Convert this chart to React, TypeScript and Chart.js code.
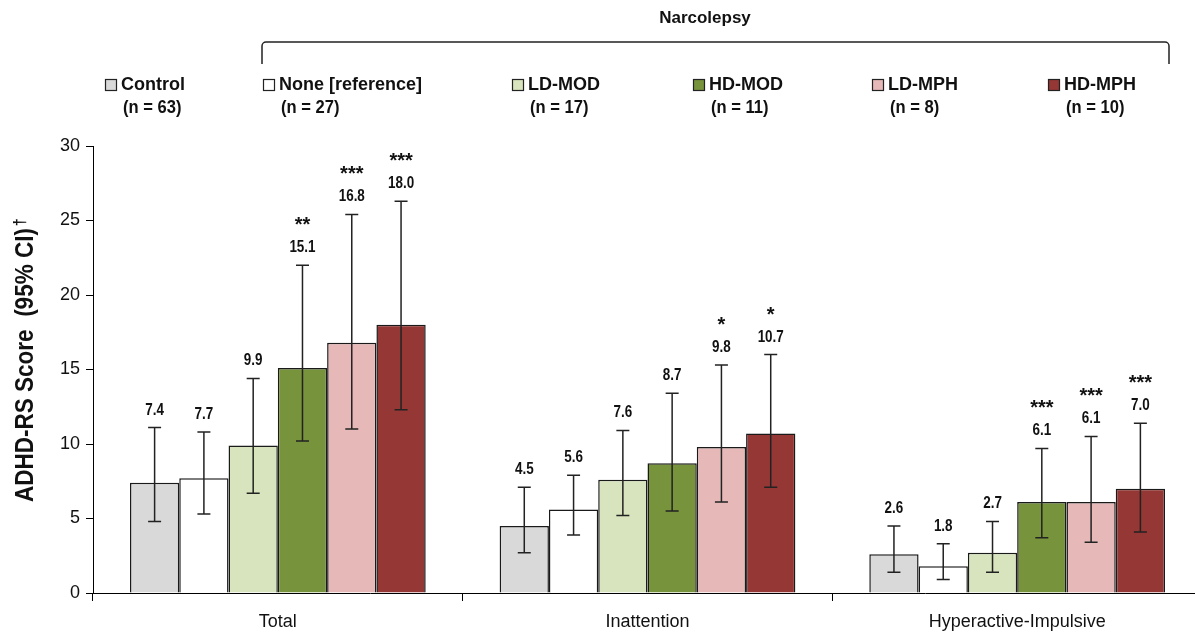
import React, { useEffect, useRef } from "react";
import { Chart, registerables } from "chart.js";

Chart.register(...registerables);

// ---------- data ----------
const categories = ["Total", "Inattention", "Hyperactive-Impulsive"];
const groupNames = ["Control", "None [reference]", "LD-MOD", "HD-MOD", "LD-MPH", "HD-MPH"];
const groupCounts = ["(n = 63)", "(n = 27)", "(n = 17)", "(n = 11)", "(n = 8)", "(n = 10)"];

const controlMean = [7.4, 4.5, 2.6];
const noneMean = [7.7, 5.6, 1.8];
const ldModMean = [9.9, 7.6, 2.7];
const hdModMean = [15.1, 8.7, 6.1];
const ldMphMean = [16.8, 9.8, 6.1];
const hdMphMean = [18.0, 10.7, 7.0];

const controlLow = [4.8, 2.7, 1.4];
const noneLow = [5.3, 3.9, 0.9];
const ldModLow = [6.7, 5.2, 1.4];
const hdModLow = [10.2, 5.5, 3.7];
const ldMphLow = [11.0, 6.1, 3.4];
const hdMphLow = [12.3, 7.1, 4.1];

const controlHigh = [11.1, 7.1, 4.5];
const noneHigh = [10.8, 7.9, 3.3];
const ldModHigh = [14.4, 10.9, 4.8];
const hdModHigh = [22.0, 13.4, 9.7];
const ldMphHigh = [25.4, 15.3, 10.5];
const hdMphHigh = [26.3, 16.0, 11.4];

const controlSig = ["", "", ""];
const noneSig = ["", "", ""];
const ldModSig = ["", "", ""];
const hdModSig = ["**", "", "***"];
const ldMphSig = ["***", "*", "***"];
const hdMphSig = ["***", "*", "***"];

const yTicks = [0, 5, 10, 15, 20, 25, 30];

const means = [controlMean, noneMean, ldModMean, hdModMean, ldMphMean, hdMphMean];
const lows = [controlLow, noneLow, ldModLow, hdModLow, ldMphLow, hdMphLow];
const highs = [controlHigh, noneHigh, ldModHigh, hdModHigh, ldMphHigh, hdMphHigh];
const sigs = [controlSig, noneSig, ldModSig, hdModSig, ldMphSig, hdMphSig];

// ---------- style ----------
const colors = ["#d9d9d9", "#ffffff", "#d7e4bd", "#77933c", "#e6b9b8", "#953735"];
const legendBoxX = [105, 263, 512, 693, 872, 1048];
const FONT = "'Liberation Sans', Arial, Helvetica, sans-serif";
const CANVAS_W = 1210;
const CANVAS_H = 633;

function drawText(
  ctx: CanvasRenderingContext2D,
  s: string,
  x: number,
  y: number,
  font: string,
  align: CanvasTextAlign,
  baseline: CanvasTextBaseline,
  sx = 1,
  color = "#111"
) {
  ctx.save();
  ctx.font = font;
  ctx.fillStyle = color;
  ctx.textAlign = align;
  ctx.textBaseline = baseline;
  ctx.translate(x, y);
  ctx.scale(sx, 1);
  ctx.fillText(s, 0, 0);
  ctx.restore();
}

const decorPlugin = {
  id: "decor",
  afterDatasetsDraw(chart: any) {
    const ctx: CanvasRenderingContext2D = chart.ctx;
    const yScale = chart.scales.y;
    ctx.save();
    means.forEach((_, di) => {
      const meta = chart.getDatasetMeta(di);
      meta.data.forEach((bar: any, i: number) => {
        const x = bar.x;
        const yHi = yScale.getPixelForValue(highs[di][i]);
        const yLo = yScale.getPixelForValue(lows[di][i]);
        ctx.strokeStyle = "#222";
        ctx.lineWidth = 1.5;
        ctx.beginPath();
        ctx.moveTo(x, yHi);
        ctx.lineTo(x, yLo);
        ctx.moveTo(x - 6.5, yHi);
        ctx.lineTo(x + 6.5, yHi);
        ctx.moveTo(x - 6.5, yLo);
        ctx.lineTo(x + 6.5, yLo);
        ctx.stroke();
        const labelY = yHi - 17.5;
        drawText(ctx, means[di][i].toFixed(1), x, labelY, `bold 16px ${FONT}`, "center", "middle", 0.84);
        const s = sigs[di][i];
        if (s) {
          drawText(ctx, s, x, labelY - 28 + 11.4, `bold 20px ${FONT}`, "center", "alphabetic", 1);
        }
      });
    });
    ctx.restore();
  },
  afterDraw(chart: any) {
    const ctx: CanvasRenderingContext2D = chart.ctx;
    ctx.save();
    // legend
    groupNames.forEach((name, k) => {
      const bx = legendBoxX[k];
      ctx.fillStyle = colors[k];
      ctx.fillRect(bx, 79, 12, 12);
      ctx.strokeStyle = "#222";
      ctx.lineWidth = 1.2;
      ctx.strokeRect(bx + 0.5, 79.5, 11, 11);
      drawText(ctx, name, bx + 16, 85, `bold 18px ${FONT}`, "left", "middle", 1);
      drawText(ctx, groupCounts[k], bx + 18, 108, `bold 18px ${FONT}`, "left", "middle", 0.92);
    });
    // bracket
    ctx.strokeStyle = "#222";
    ctx.lineWidth = 1.5;
    ctx.beginPath();
    ctx.moveTo(262, 64);
    ctx.arcTo(262, 42, 270, 42, 4);
    ctx.arcTo(1169, 42, 1169, 64, 4);
    ctx.lineTo(1169, 64);
    ctx.stroke();
    drawText(ctx, "Narcolepsy", 705, 18, `bold 17px ${FONT}`, "center", "middle", 1);
    // y title
    ctx.save();
    ctx.translate(33, 365);
    ctx.rotate(-Math.PI / 2);
    ctx.scale(0.9, 1);
    ctx.font = `bold 25px ${FONT}`;
    ctx.fillStyle = "#111";
    ctx.textAlign = "center";
    ctx.textBaseline = "alphabetic";
    const main = "ADHD-RS Score  (95% CI)";
    ctx.fillText(main, 0, 0);
    const w = ctx.measureText(main).width;
    ctx.font = `bold 16px ${FONT}`;
    ctx.textAlign = "left";
    ctx.fillText("\u2020", w / 2 + 2, -8);
    ctx.restore();
    ctx.restore();
  },
};

export default function App() {
  const ref = useRef<HTMLCanvasElement | null>(null);
  useEffect(() => {
    if (!ref.current) return;
    const chart = new Chart(ref.current, {
      type: "bar",
      data: {
        labels: categories,
        datasets: groupNames.map((name, k) => ({
          label: name,
          data: means[k],
          backgroundColor: colors[k],
          borderColor: "#1a1a1a",
          borderWidth: 1.5,
          categoryPercentage: 0.8,
          barPercentage: 1.0,
        })),
      },
      options: {
        responsive: false,
        animation: false,
        devicePixelRatio: 1,
        layout: { padding: { top: 146, right: 8, left: 0, bottom: 0 } },
        plugins: { legend: { display: false }, tooltip: { enabled: false }, title: { display: false } },
        scales: {
          x: {
            grid: { display: true, drawOnChartArea: false, drawTicks: true, tickLength: 8, color: "#000", offset: true },
            border: { display: true, color: "#000", width: 1 },
            ticks: { color: "#111", font: { size: 18, family: FONT }, padding: 10 },
            afterFit: (s: any) => {
              s.height = 40;
            },
          },
          y: {
            min: 0,
            max: 30,
            afterBuildTicks: (s: any) => {
              s.ticks = yTicks.map((v) => ({ value: v }));
            },
            ticks: { color: "#111", font: { size: 18, family: FONT }, padding: 6 },
            grid: { display: true, drawOnChartArea: false, drawTicks: true, tickLength: 7, color: "#000" },
            border: { display: true, color: "#000", width: 1 },
            afterFit: (s: any) => {
              s.width = 93;
              s.paddingTop = 0;
              s.paddingBottom = 0;
            },
          },
        },
      },
      plugins: [decorPlugin],
    });
    return () => chart.destroy();
  }, []);
  return (
    <div style={{ position: "absolute", left: 0, top: 0, width: 1195, height: 633, overflow: "hidden", background: "#fff" }}>
      <canvas ref={ref} width={CANVAS_W} height={CANVAS_H} style={{ display: "block" }} />
    </div>
  );
}
